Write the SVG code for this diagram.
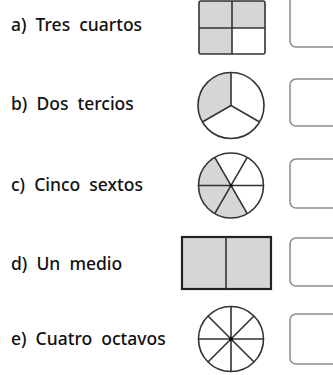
<svg xmlns="http://www.w3.org/2000/svg" width="333" height="375" viewBox="0 0 333 375">
<style>
.t{font-family:"Noto Sans",Lato,sans-serif;font-size:17.5px;font-weight:500;fill:#111;white-space:pre}
.s{stroke:#333;stroke-width:1.6;fill:none}
.g{fill:#d6d6d6}
.box{fill:#fff;stroke:#8a8a8a;stroke-width:1.5}
</style>
<rect width="333" height="375" fill="#fff"/>
<g id="a">
<text class="t" x="11" y="31">a)  Tres  cuartos</text>
<rect class="g" x="199" y="1" width="66" height="53"/>
<rect fill="#fff" x="232" y="28" width="33" height="26"/>
<rect class="s" x="199" y="1" width="66" height="53" rx="2"/>
<line class="s" x1="232" y1="1" x2="232" y2="54"/>
<line class="s" x1="199" y1="28" x2="265" y2="28"/>
<rect class="box" x="290" y="-6" width="60" height="53" rx="6"/>
</g>
<g id="b">
<text class="t" x="11" y="110">b)  Dos  tercios</text>
<path class="g" d="M231,105.5 L231,72.5 A33,33 0 0 0 202.4,122 Z"/>
<circle class="s" cx="231" cy="105.5" r="33"/>
<path class="s" d="M231,72.5 L231,105.5 L259.6,122 M231,105.5 L202.4,122"/>
<rect class="box" x="290" y="79" width="60" height="47" rx="6"/>
</g>
<g id="c">
<text class="t" x="11" y="191">c)  Cinco  sextos</text>
<path class="g" d="M231,185.5 L214.75,157.35 A32.5,32.5 0 0 0 214.75,213.65 L247.25,213.65 Z M231,185.5 L214.75,213.65 A32.5,32.5 0 0 0 247.25,213.65 Z"/>
<circle class="s" cx="231" cy="185.5" r="32.5"/>
<path class="s" d="M198.5,185.5 L263.5,185.5 M214.75,157.35 L247.25,213.65 M247.25,157.35 L214.75,213.65"/>
<circle cx="231" cy="185.5" r="1.6" fill="#111"/>
<rect class="box" x="290" y="159" width="60" height="49" rx="6"/>
</g>
<g id="d">
<text class="t" x="11" y="270">d)  Un  medio</text>
<rect class="g" x="182" y="237" width="89" height="52"/>
<rect x="182" y="237" width="89" height="52" fill="none" stroke="#222" stroke-width="2.2"/>
<line class="s" x1="226" y1="237" x2="226" y2="289"/>
<rect class="box" x="290" y="238" width="60" height="48" rx="6"/>
</g>
<g id="e">
<text class="t" x="11" y="345">e)  Cuatro  octavos</text>
<circle class="s" cx="231" cy="339" r="32.5"/>
<path class="s" d="M198.5,339 L263.5,339 M231,306.5 L231,371.5 M208,316 L254,362 M254,316 L208,362"/>
<circle cx="231" cy="339" r="2" fill="#111"/>
<rect class="box" x="290" y="314" width="60" height="50" rx="6"/>
</g>
</svg>
